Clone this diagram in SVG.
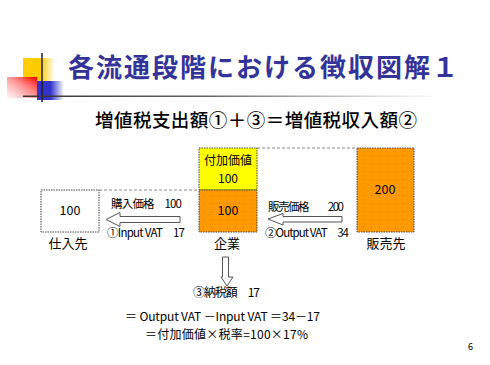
<svg xmlns="http://www.w3.org/2000/svg" width="490" height="365" viewBox="0 0 490 365">
<style>
.t{font-family:"Noto Sans CJK JP","Noto Sans",sans-serif;fill:#000}
.box{stroke:#444;stroke-width:1;stroke-dasharray:1.5 1}
.arrow{fill:#fff;stroke:#555;stroke-width:1}
.dash{stroke:#888;stroke-width:1;stroke-dasharray:3 2;fill:none}
</style>
<defs>
<linearGradient id="gy" x1="0" y1="0" x2="1" y2="0"><stop offset="0" stop-color="#FFCC00"/><stop offset="0.55" stop-color="#FFCC00"/><stop offset="1" stop-color="#FFCC00" stop-opacity="0"/></linearGradient>
<linearGradient id="gr" x1="1" y1="0" x2="0" y2="1"><stop offset="0" stop-color="#FF0000"/><stop offset="0.4" stop-color="#FF6666" stop-opacity="0.8"/><stop offset="1" stop-color="#FF9999" stop-opacity="0.1"/></linearGradient>
<linearGradient id="gb" x1="0" y1="0" x2="1" y2="0"><stop offset="0" stop-color="#3333CC"/><stop offset="0.5" stop-color="#3333CC"/><stop offset="1" stop-color="#3333CC" stop-opacity="0"/></linearGradient>
<linearGradient id="gl" x1="0" y1="0" x2="1" y2="0"><stop offset="0" stop-color="#333"/><stop offset="0.45" stop-color="#666"/><stop offset="0.75" stop-color="#bbb"/><stop offset="1" stop-color="#ddd" stop-opacity="0.3"/></linearGradient>
<pattern id="dots" width="8" height="8" patternUnits="userSpaceOnUse"><rect width="8" height="8" fill="#FF9900"/><rect x="3" y="3" width="1" height="1" fill="#F06A00"/></pattern>
</defs>
<g id="logo">
<rect x="23" y="58" width="32" height="23" fill="url(#gy)"/>
<rect x="7" y="77" width="30" height="21" fill="url(#gr)"/>
<rect x="37" y="81" width="27" height="19" fill="url(#gb)"/>
<line x1="42" y1="53" x2="42" y2="102" stroke="#222" stroke-width="1.5"/>
<rect x="23" y="95.5" width="410" height="1.5" fill="url(#gl)"/>
</g>
<g id="title">
<text class="t" x="68" y="77" font-size="26" font-weight="bold" style="fill:#333399" textLength="390" lengthAdjust="spacing">各流通段階における徴収図解１</text>
</g>
<g id="subtitle">
<text class="t" x="95" y="127" font-size="18.5" font-weight="500" textLength="322" lengthAdjust="spacing">増値税支出額①＋③＝増値税収入額②</text>
</g>
<g id="connectors">
<line class="dash" x1="99" y1="190" x2="199" y2="190"/>
<line class="dash" x1="257" y1="148" x2="357" y2="148"/>
<polygon class="arrow" points="106,219.5 120,212.5 120,216.5 180,216.5 180,222.5 120,222.5 120,226.5"/>
<polygon class="arrow" points="268,219 283,213.5 283,216.5 342,216.5 342,222 283,222 283,225"/>
<polygon class="arrow" points="222.5,257 228.5,257 228.5,277 233,277 227,286 221,277 222.5,277"/>
<text class="t" x="111" y="208" font-size="11.5" textLength="71" lengthAdjust="spacing">購入価格　100</text>
<text class="t" x="107" y="237" font-size="11.5" textLength="78" lengthAdjust="spacing">①Input VAT　17</text>
<text class="t" x="268" y="211" font-size="11.5" textLength="76" lengthAdjust="spacing">販売価格　　200</text>
<text class="t" x="265" y="237" font-size="11.5" textLength="84" lengthAdjust="spacing">②Output VAT　34</text>
</g>
<g id="node-shiiresaki">
<rect class="box" x="41" y="190" width="58" height="42" fill="#fff"/>
<text class="t" x="70" y="215" font-size="12.5" text-anchor="middle">100</text>
<text class="t" x="68" y="248" font-size="13" text-anchor="middle">仕入先</text>
</g>
<g id="node-kigyo">
<rect class="box" x="199" y="148" width="58" height="42" fill="#FFFF00"/>
<text class="t" x="228" y="165" font-size="12" text-anchor="middle">付加価値</text>
<text class="t" x="228" y="183" font-size="12" text-anchor="middle">100</text>
<rect class="box" x="199" y="190" width="58" height="42" fill="url(#dots)"/>
<text class="t" x="228" y="215" font-size="12.5" text-anchor="middle">100</text>
<text class="t" x="227" y="248" font-size="13" text-anchor="middle">企業</text>
</g>
<g id="node-hanbaisaki">
<rect class="box" x="357" y="148" width="57" height="84" fill="url(#dots)"/>
<text class="t" x="385" y="194" font-size="12.5" text-anchor="middle">200</text>
<text class="t" x="386" y="248" font-size="13" text-anchor="middle">販売先</text>
</g>
<g id="tax">
<text class="t" x="193" y="297" font-size="12" textLength="67" lengthAdjust="spacing">③納税額　17</text>
<text class="t" x="125" y="321" font-size="12" textLength="195" lengthAdjust="spacing">＝ Output VAT －Input VAT ＝34－17</text>
<text class="t" x="145" y="339" font-size="12" textLength="163" lengthAdjust="spacing">＝付加価値×税率=100×17%</text>
</g>
<text class="t" x="468" y="350" font-size="9">6</text>
</svg>
